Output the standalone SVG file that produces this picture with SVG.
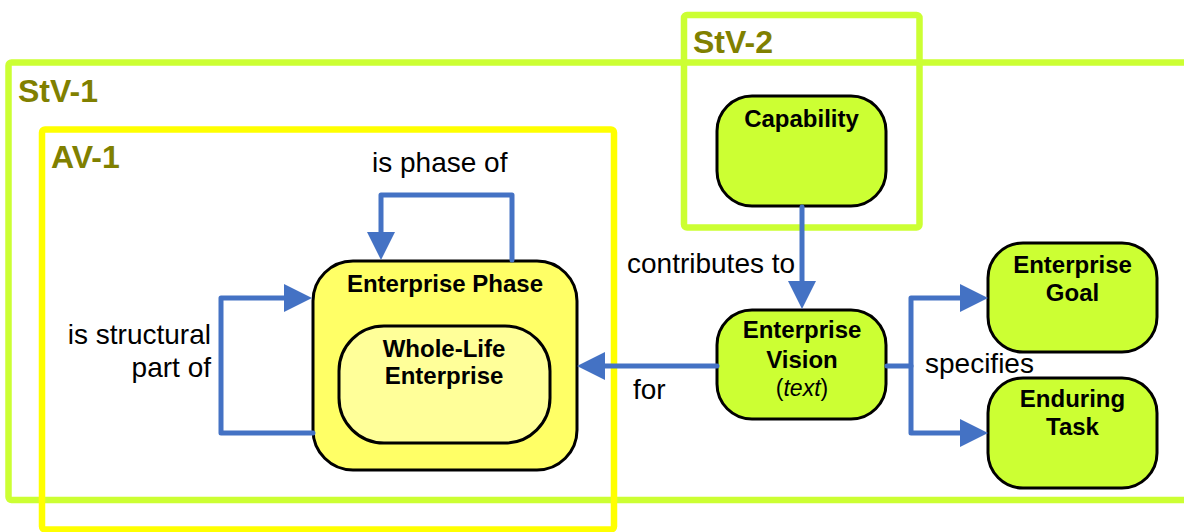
<svg xmlns="http://www.w3.org/2000/svg" width="1184" height="532" viewBox="0 0 1184 532">
<style>
.frame{fill:none;stroke-width:6.5}
.lime{stroke:#CCFF33}
.yel{stroke:#FFFF00}
.ftitle{font-family:"Liberation Sans",Arial,sans-serif;font-weight:bold;font-size:32px;fill:#808000}
.node{stroke:#000;stroke-width:3}
.green{fill:#CCFF33}
.nt{font-family:"Liberation Sans",Arial,sans-serif;font-weight:bold;font-size:24px;fill:#000;text-anchor:middle}
.sub{font-family:"Liberation Sans",Arial,sans-serif;font-size:23px;fill:#000;text-anchor:middle}
.lbl{font-family:"Liberation Sans",Arial,sans-serif;font-size:28px;fill:#000}
.conn{fill:none;stroke:#4472C4;stroke-width:5;stroke-linejoin:round;stroke-linecap:round}
.arr{marker-end:url(#ah)}
</style>
<defs>
<marker id="ah" viewBox="0 0 28 28" markerWidth="28" markerHeight="28" refX="0" refY="14" orient="auto" markerUnits="userSpaceOnUse">
<path d="M0,0 L28,14 L0,28 z" fill="#4472C4"/>
</marker>
</defs>
<rect width="1184" height="532" fill="#FFFFFF"/>
<g id="frame-stv1">
<rect class="frame lime" x="8.5" y="62.5" width="1200" height="437.5" rx="3"/>
<text class="ftitle" x="18" y="102">StV-1</text>
</g>
<g id="frame-av1">
<rect class="frame yel" x="42" y="129.5" width="572" height="400" rx="3"/>
<text class="ftitle" x="51" y="168">AV-1</text>
</g>
<g id="frame-stv2">
<rect class="frame lime" x="684" y="15" width="235.5" height="212.5" rx="3"/>
<text class="ftitle" x="693" y="53">StV-2</text>
</g>
<g id="enterprise-phase">
<rect class="node" x="313" y="261" width="264" height="209" rx="40" fill="#FFFF66"/>
<text class="nt" x="445" y="292">Enterprise Phase</text>
</g>
<g id="whole-life-enterprise">
<rect class="node" x="339" y="326" width="211" height="117" rx="45" fill="#FFFF99"/>
<text class="nt" x="444" y="357">Whole-Life</text>
<text class="nt" x="444" y="384">Enterprise</text>
</g>
<g id="capability">
<rect class="node green" x="717" y="96" width="169" height="110" rx="35"/>
<text class="nt" x="801.5" y="127">Capability</text>
</g>
<g id="enterprise-vision">
<rect class="node green" x="717" y="310" width="169" height="109" rx="35"/>
<text class="nt" x="802" y="338">Enterprise</text>
<text class="nt" x="802" y="368">Vision</text>
<text class="sub" x="802" y="396">(<tspan font-style="italic">text</tspan>)</text>
</g>
<g id="enterprise-goal">
<rect class="node green" x="988" y="243" width="169" height="109" rx="35"/>
<text class="nt" x="1072.5" y="273">Enterprise</text>
<text class="nt" x="1072.5" y="301">Goal</text>
</g>
<g id="enduring-task">
<rect class="node green" x="988" y="378" width="169" height="110" rx="35"/>
<text class="nt" x="1072.5" y="407">Enduring</text>
<text class="nt" x="1072.5" y="435">Task</text>
</g>
<g id="connectors">
<path class="conn arr" d="M512,260 V195 H381 V232"/>
<path class="conn arr" d="M313,433 H221 V298 H284"/>
<path class="conn arr" d="M802,207 V281"/>
<path class="conn arr" d="M717,366 H605"/>
<path class="conn arr" d="M887,366 H911 V298 H960"/>
<path class="conn arr" d="M911,366 V433 H960"/>
<text class="lbl" x="372" y="172">is phase of</text>
<text class="lbl" x="211" y="344" text-anchor="end">is structural</text>
<text class="lbl" x="211" y="377" text-anchor="end">part of</text>
<text class="lbl" x="627" y="273">contributes to</text>
<text class="lbl" x="633" y="399">for</text>
<text class="lbl" x="925" y="373">specifies</text>
</g>
</svg>
